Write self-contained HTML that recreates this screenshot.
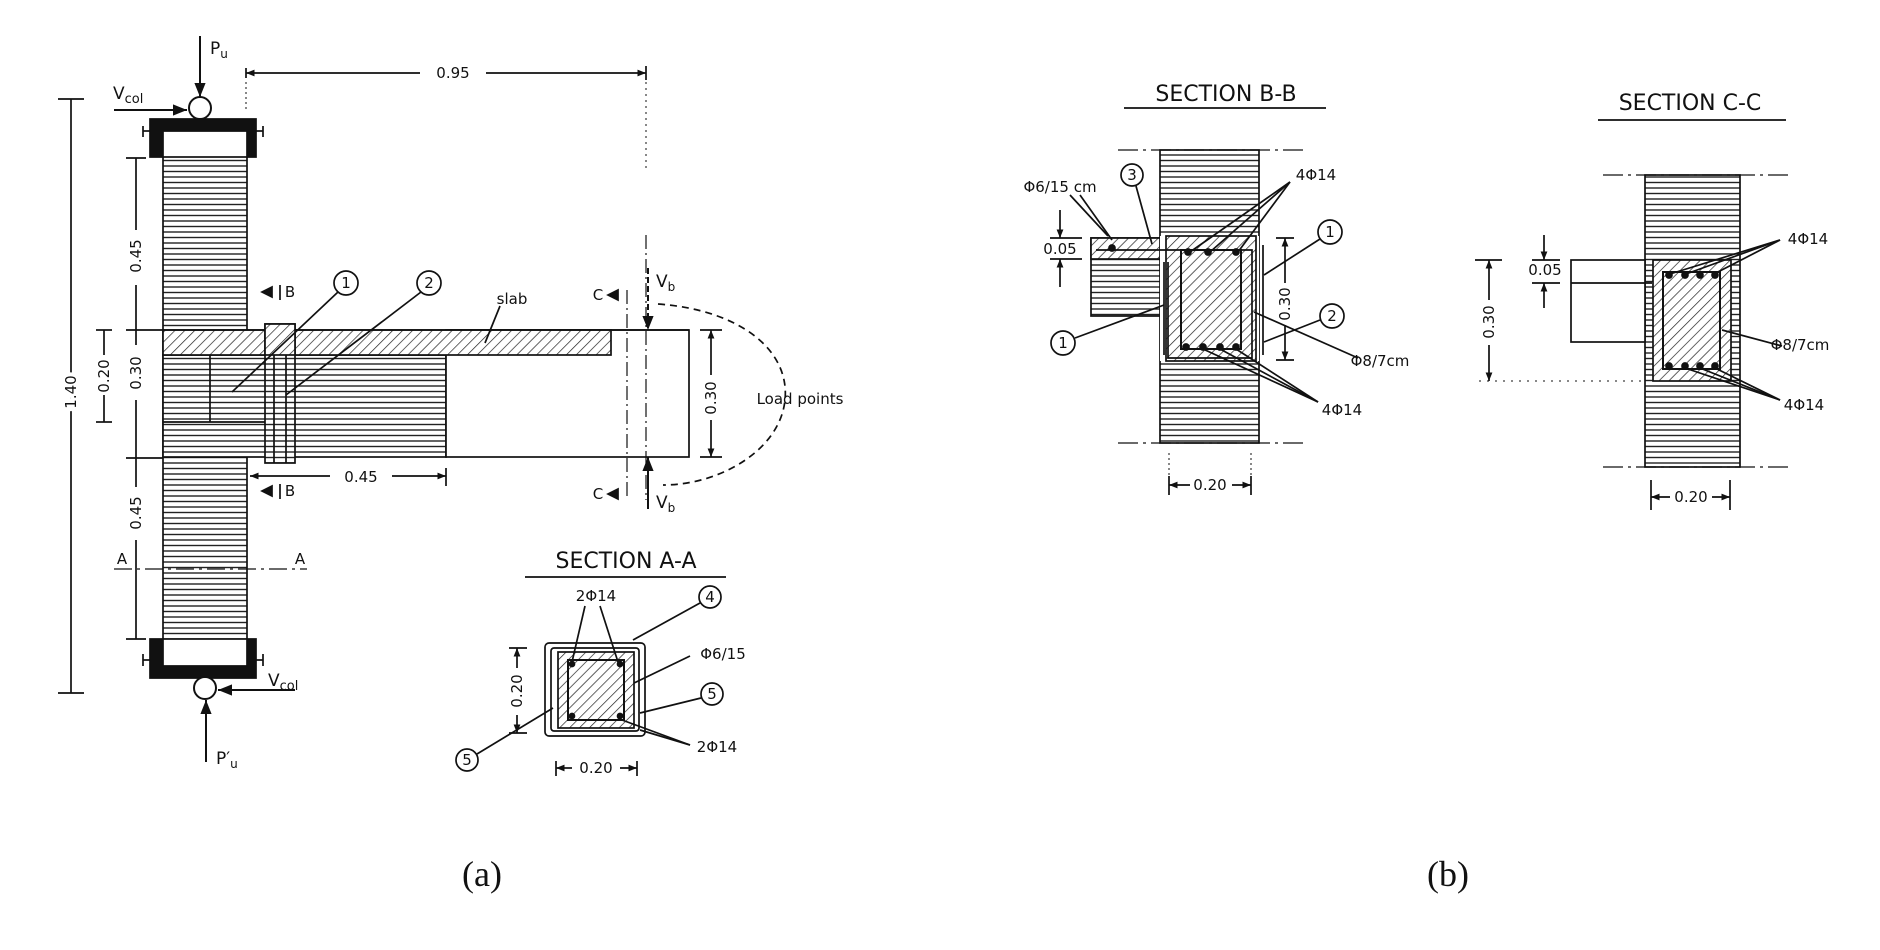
<!DOCTYPE html>
<html><head><meta charset="utf-8"><style>
html,body{margin:0;padding:0;background:#fff;}
svg{display:block;}
text{font-family:"DejaVu Sans","Liberation Sans",sans-serif;fill:#111;}
text.cap{font-family:"Liberation Serif",serif !important;}
</style></head><body>
<svg width="1880" height="950" viewBox="0 0 1880 950" xmlns="http://www.w3.org/2000/svg">
<defs>
<pattern id="hz" width="10" height="5.5" patternUnits="userSpaceOnUse"><rect width="10" height="5.5" fill="#fff"/><line x1="0" y1="1" x2="10" y2="1" stroke="#222" stroke-width="1.4"/></pattern>
<pattern id="dg" width="7" height="7" patternUnits="userSpaceOnUse" patternTransform="rotate(45)"><rect width="7" height="7" fill="#fff"/><line x1="0" y1="0" x2="0" y2="7" stroke="#222" stroke-width="1.4"/></pattern>
<marker id="ar" viewBox="0 0 10 10" refX="10" refY="5" markerWidth="7" markerHeight="7" orient="auto-start-reverse"><path d="M0,1 L10,5 L0,9 z" fill="#111"/></marker>
<marker id="sa" viewBox="0 0 10 10" refX="10" refY="5" markerWidth="5" markerHeight="5" orient="auto-start-reverse"><path d="M0,1 L10,5 L0,9 z" fill="#111"/></marker>
</defs>
<g stroke="#111" fill="none" stroke-width="1.7">
<!-- ========== (a) ========== -->
<rect x="163" y="157" width="84" height="482" fill="url(#hz)"/>
<path d="M150,119 H256 V157 H247 V131 H163 V157 H150 Z" fill="#111"/>
<path d="M150,678 H256 V639 H247 V666 H163 V639 H150 Z" fill="#111"/>
<line x1="143" y1="131" x2="150" y2="131"/><line x1="143" y1="126" x2="143" y2="137"/>
<line x1="256" y1="131" x2="263" y2="131"/><line x1="263" y1="126" x2="263" y2="137"/>
<line x1="143" y1="660" x2="150" y2="660"/><line x1="143" y1="654" x2="143" y2="666"/>
<line x1="256" y1="660" x2="263" y2="660"/><line x1="263" y1="654" x2="263" y2="666"/>
<circle cx="200" cy="108" r="11" fill="#fff" stroke-width="2"/>
<circle cx="205" cy="688" r="11" fill="#fff" stroke-width="2"/>
<rect x="163" y="355" width="283" height="102" fill="url(#hz)"/>
<rect x="446" y="330" width="243" height="127" fill="#fff"/>
<rect x="163" y="330" width="448" height="25" fill="url(#dg)"/>
<line x1="163" y1="330" x2="689" y2="330"/>
<line x1="210" y1="355" x2="210" y2="422"/>
<line x1="163" y1="422" x2="265" y2="422"/>
<rect x="265" y="324" width="30" height="139" fill="url(#hz)"/>
<rect x="265" y="324" width="30" height="31" fill="url(#dg)"/>
<line x1="274" y1="355" x2="274" y2="463"/><line x1="286" y1="355" x2="286" y2="463"/>
<line x1="200" y1="36" x2="200" y2="97" marker-end="url(#ar)" stroke-width="2"/>
<line x1="114" y1="110" x2="187" y2="110" marker-end="url(#ar)" stroke-width="2"/>
<line x1="295" y1="690" x2="218" y2="690" marker-end="url(#ar)" stroke-width="2"/>
<line x1="206" y1="762" x2="206" y2="700" marker-end="url(#ar)" stroke-width="2"/>
<line x1="648" y1="268" x2="648" y2="330" marker-end="url(#ar)" stroke-width="2" stroke-dasharray="6 3"/>
<line x1="648" y1="509" x2="648" y2="457" marker-end="url(#ar)" stroke-width="2"/>
<line x1="246" y1="73" x2="420" y2="73" marker-start="url(#sa)"/>
<line x1="486" y1="73" x2="646" y2="73" marker-end="url(#sa)"/>
<line x1="246" y1="68" x2="246" y2="78"/><line x1="646" y1="66" x2="646" y2="80"/>
<line x1="246" y1="82" x2="246" y2="112" stroke-dasharray="2 3" stroke-width="1"/>
<line x1="646" y1="82" x2="646" y2="170" stroke-dasharray="2 4" stroke-width="1"/>
<line x1="646" y1="235" x2="646" y2="500" stroke-dasharray="14 4 2 4" stroke-width="1.2"/>
<line x1="627" y1="290" x2="627" y2="500" stroke-dasharray="14 4 2 4" stroke-width="1.2"/>
<line x1="71" y1="99" x2="71" y2="693"/><line x1="58" y1="99" x2="84" y2="99"/><line x1="58" y1="693" x2="84" y2="693"/>
<line x1="136" y1="158" x2="136" y2="230"/><line x1="136" y1="285" x2="136" y2="345"/><line x1="136" y1="400" x2="136" y2="487"/><line x1="136" y1="540" x2="136" y2="639"/>
<line x1="126" y1="158" x2="146" y2="158"/><line x1="126" y1="330" x2="163" y2="330"/><line x1="126" y1="458" x2="163" y2="458"/><line x1="126" y1="639" x2="146" y2="639"/>
<line x1="104" y1="330" x2="104" y2="355"/><line x1="104" y1="395" x2="104" y2="422"/><line x1="96" y1="330" x2="112" y2="330"/><line x1="96" y1="422" x2="112" y2="422"/>
<line x1="711" y1="330" x2="711" y2="375" marker-start="url(#sa)"/><line x1="711" y1="420" x2="711" y2="457" marker-end="url(#sa)"/>
<line x1="700" y1="330" x2="722" y2="330"/><line x1="700" y1="457" x2="722" y2="457"/>
<path d="M658,304 C740,310 790,350 785,400 C780,450 720,485 663,485" stroke-dasharray="7 5"/>
<line x1="250" y1="476" x2="330" y2="476" marker-start="url(#sa)"/><line x1="392" y1="476" x2="446" y2="476" marker-end="url(#sa)"/>
<line x1="446" y1="468" x2="446" y2="486"/>
<line x1="280" y1="285" x2="280" y2="300"/><line x1="280" y1="484" x2="280" y2="499"/>
<path d="M262,292 L272,287 L272,297 Z" fill="#111"/><path d="M262,491 L272,486 L272,496 Z" fill="#111"/>
<path d="M608,295 L618,290 L618,300 Z" fill="#111"/><path d="M608,494 L618,489 L618,499 Z" fill="#111"/>
<line x1="114" y1="569" x2="307" y2="569" stroke-dasharray="18 5 3 5" stroke-width="1.2"/>
<circle cx="346" cy="283" r="12"/><circle cx="429" cy="283" r="12"/>
<line x1="338" y1="292" x2="232" y2="392"/><line x1="421" y1="292" x2="286" y2="395"/>
<line x1="500" y1="306" x2="485" y2="343"/>
<line x1="525" y1="577" x2="726" y2="577"/>
<rect x="545" y="643" width="100" height="93" rx="4" fill="#fff"/>
<rect x="551" y="648" width="88" height="83" rx="3"/>
<rect x="558" y="652" width="76" height="76" fill="url(#dg)"/>
<rect x="568" y="660" width="56" height="60" fill="url(#dg)" stroke-width="2"/>
<circle cx="572" cy="664" r="2.5" fill="#111"/><circle cx="620" cy="664" r="2.5" fill="#111"/><circle cx="572" cy="716" r="2.5" fill="#111"/><circle cx="620" cy="716" r="2.5" fill="#111"/>
<line x1="585" y1="606" x2="572" y2="662"/><line x1="600" y1="606" x2="618" y2="662"/>
<circle cx="710" cy="597" r="11"/><line x1="700" y1="603" x2="633" y2="640"/>
<line x1="690" y1="656" x2="634" y2="683"/>
<circle cx="712" cy="694" r="11"/><line x1="701" y1="698" x2="640" y2="713"/>
<line x1="690" y1="745" x2="622" y2="720"/><line x1="690" y1="745" x2="640" y2="730"/>
<circle cx="467" cy="760" r="11"/><line x1="477" y1="754" x2="553" y2="708"/>
<line x1="517" y1="648" x2="517" y2="668" marker-start="url(#sa)"/><line x1="517" y1="715" x2="517" y2="733" marker-end="url(#sa)"/>
<line x1="509" y1="648" x2="527" y2="648"/><line x1="509" y1="733" x2="527" y2="733"/>
<line x1="556" y1="768" x2="572" y2="768" marker-start="url(#sa)"/><line x1="620" y1="768" x2="637" y2="768" marker-end="url(#sa)"/>
<line x1="556" y1="761" x2="556" y2="776"/><line x1="637" y1="761" x2="637" y2="776"/>

<!-- Section B-B -->
<line x1="1124" y1="108" x2="1326" y2="108"/>
<rect x="1160" y="150" width="99" height="293" fill="url(#hz)"/>
<line x1="1118" y1="150" x2="1307" y2="150" stroke-dasharray="20 5 3 5" stroke-width="1.2"/>
<line x1="1118" y1="443" x2="1307" y2="443" stroke-dasharray="20 5 3 5" stroke-width="1.2"/>
<rect x="1091" y="238" width="69" height="78" fill="url(#hz)"/>
<rect x="1091" y="238" width="69" height="21" fill="url(#dg)"/>
<rect x="1160" y="236" width="99" height="125" fill="#fff" stroke="none"/>
<rect x="1166" y="236" width="90" height="125" fill="url(#dg)"/>
<rect x="1181" y="250" width="60" height="99" fill="url(#dg)" stroke-width="2"/>
<path d="M1096,250 H1252 V358 H1168 V262"/>
<line x1="1263" y1="245" x2="1263" y2="355"/>
<line x1="1164" y1="262" x2="1164" y2="355"/>
<circle cx="1112" cy="248" r="3" fill="#111"/>
<circle cx="1188" cy="252" r="3" fill="#111"/><circle cx="1208" cy="252" r="3" fill="#111"/><circle cx="1236" cy="252" r="3" fill="#111"/>
<circle cx="1186" cy="347" r="3" fill="#111"/><circle cx="1203" cy="347" r="3" fill="#111"/><circle cx="1220" cy="347" r="3" fill="#111"/><circle cx="1236" cy="347" r="3" fill="#111"/>
<line x1="1285" y1="238" x2="1285" y2="283" marker-start="url(#sa)"/><line x1="1285" y1="325" x2="1285" y2="360" marker-end="url(#sa)"/>
<line x1="1276" y1="238" x2="1294" y2="238"/><line x1="1276" y1="360" x2="1294" y2="360"/>
<line x1="1060" y1="210" x2="1060" y2="238" marker-end="url(#sa)"/><line x1="1060" y1="287" x2="1060" y2="259" marker-end="url(#sa)"/>
<line x1="1050" y1="238" x2="1082" y2="238"/><line x1="1050" y1="259" x2="1082" y2="259"/>
<circle cx="1132" cy="175" r="11"/><line x1="1136" y1="186" x2="1152" y2="244"/>
<line x1="1080" y1="195" x2="1112" y2="240"/><line x1="1070" y1="195" x2="1108" y2="236"/>
<line x1="1290" y1="182" x2="1190" y2="252"/><line x1="1290" y1="182" x2="1210" y2="252"/><line x1="1290" y1="182" x2="1238" y2="252"/>
<circle cx="1330" cy="232" r="12"/><line x1="1320" y1="239" x2="1264" y2="275"/>
<circle cx="1332" cy="316" r="12"/><line x1="1320" y1="320" x2="1264" y2="342"/>
<line x1="1358" y1="358" x2="1254" y2="312"/>
<line x1="1318" y1="402" x2="1236" y2="349"/><line x1="1318" y1="402" x2="1220" y2="349"/><line x1="1318" y1="402" x2="1203" y2="349"/>
<circle cx="1063" cy="343" r="12"/><line x1="1075" y1="338" x2="1164" y2="305"/>
<line x1="1169" y1="453" x2="1169" y2="478" stroke-dasharray="2 3" stroke-width="1"/><line x1="1251" y1="453" x2="1251" y2="478" stroke-dasharray="2 3" stroke-width="1"/>
<line x1="1169" y1="485" x2="1190" y2="485" marker-start="url(#sa)"/><line x1="1232" y1="485" x2="1251" y2="485" marker-end="url(#sa)"/>
<line x1="1169" y1="476" x2="1169" y2="495"/><line x1="1251" y1="476" x2="1251" y2="495"/>

<!-- Section C-C -->
<line x1="1598" y1="120" x2="1786" y2="120"/>
<rect x="1645" y="175" width="95" height="292" fill="url(#hz)"/>
<line x1="1603" y1="175" x2="1792" y2="175" stroke-dasharray="20 5 3 5" stroke-width="1.2"/>
<line x1="1603" y1="467" x2="1792" y2="467" stroke-dasharray="20 5 3 5" stroke-width="1.2"/>
<rect x="1571" y="260" width="74" height="82" fill="#fff"/>
<line x1="1571" y1="283" x2="1652" y2="283"/>
<rect x="1653" y="260" width="78" height="121" fill="url(#dg)"/>
<rect x="1663" y="272" width="57" height="97" fill="url(#dg)" stroke-width="2"/>
<circle cx="1669" cy="275" r="3" fill="#111"/><circle cx="1685" cy="275" r="3" fill="#111"/><circle cx="1700" cy="275" r="3" fill="#111"/><circle cx="1715" cy="275" r="3" fill="#111"/>
<circle cx="1669" cy="366" r="3" fill="#111"/><circle cx="1685" cy="366" r="3" fill="#111"/><circle cx="1700" cy="366" r="3" fill="#111"/><circle cx="1715" cy="366" r="3" fill="#111"/>
<line x1="1489" y1="260" x2="1489" y2="300" marker-start="url(#sa)"/><line x1="1489" y1="345" x2="1489" y2="381" marker-end="url(#sa)"/>
<line x1="1475" y1="260" x2="1502" y2="260"/>
<line x1="1479" y1="381" x2="1645" y2="381" stroke-dasharray="2 6" stroke-width="1"/>
<line x1="1544" y1="235" x2="1544" y2="260" marker-end="url(#sa)"/><line x1="1544" y1="308" x2="1544" y2="283" marker-end="url(#sa)"/>
<line x1="1532" y1="260" x2="1560" y2="260"/><line x1="1532" y1="283" x2="1560" y2="283"/>
<line x1="1780" y1="240" x2="1670" y2="274"/><line x1="1780" y1="240" x2="1686" y2="274"/><line x1="1780" y1="240" x2="1714" y2="274"/>
<line x1="1782" y1="346" x2="1722" y2="330"/>
<line x1="1780" y1="400" x2="1715" y2="368"/><line x1="1780" y1="400" x2="1700" y2="368"/><line x1="1780" y1="400" x2="1685" y2="368"/>
<line x1="1651" y1="480" x2="1651" y2="510"/><line x1="1730" y1="480" x2="1730" y2="510"/>
<line x1="1651" y1="497" x2="1670" y2="497" marker-start="url(#sa)"/><line x1="1712" y1="497" x2="1730" y2="497" marker-end="url(#sa)"/>
</g>

<g font-size="17">
<text x="210" y="54">P<tspan font-size="12" dy="4">u</tspan></text>
<text x="113" y="99">V<tspan font-size="13" dy="4">col</tspan></text>
<text x="268" y="686">V<tspan font-size="13" dy="4">col</tspan></text>
<text x="216" y="764">P′<tspan font-size="12" dy="4">u</tspan></text>
<text x="656" y="287">V<tspan font-size="12" dy="4">b</tspan></text>
<text x="656" y="508">V<tspan font-size="12" dy="4">b</tspan></text>
</g>
<g font-size="15" text-anchor="middle">
<text x="453" y="78">0.95</text>
<text x="361" y="482">0.45</text>
<text x="512" y="304">slab</text>
<text x="800" y="404">Load points</text>
<text x="290" y="297">B</text><text x="290" y="496">B</text>
<text x="598" y="300">C</text><text x="598" y="499">C</text>
<text x="122" y="564">A</text><text x="300" y="564">A</text>
<text x="346" y="288">1</text><text x="429" y="288">2</text>
<text transform="translate(71,392) rotate(-90)" dy="5" style="paint-order:stroke;stroke:#fff;stroke-width:8px">1.40</text>
<text transform="translate(136,256) rotate(-90)" dy="5">0.45</text>
<text transform="translate(136,373) rotate(-90)" dy="5">0.30</text>
<text transform="translate(136,513) rotate(-90)" dy="5">0.45</text>
<text transform="translate(104,376) rotate(-90)" dy="5">0.20</text>
<text transform="translate(711,398) rotate(-90)" dy="5">0.30</text>
<text x="626" y="568" font-size="22">SECTION A-A</text>
<text x="596" y="601">2Φ14</text>
<text x="710" y="602">4</text>
<text x="723" y="659">Φ6/15</text>
<text x="712" y="699">5</text>
<text x="717" y="752">2Φ14</text>
<text x="467" y="765">5</text>
<text transform="translate(517,691) rotate(-90)" dy="5">0.20</text>
<text x="596" y="773">0.20</text>
<text x="1226" y="101" font-size="22">SECTION B-B</text>
<text x="1060" y="192">Φ6/15 cm</text>
<text x="1132" y="180">3</text>
<text x="1316" y="180">4Φ14</text>
<text x="1330" y="237">1</text>
<text x="1332" y="321">2</text>
<text x="1063" y="348">1</text>
<text x="1380" y="366">Φ8/7cm</text>
<text x="1342" y="415">4Φ14</text>
<text x="1060" y="254">0.05</text>
<text transform="translate(1285,304) rotate(-90)" dy="5">0.30</text>
<text x="1210" y="490">0.20</text>
<text x="1690" y="110" font-size="22">SECTION C-C</text>
<text x="1808" y="244">4Φ14</text>
<text x="1800" y="350">Φ8/7cm</text>
<text x="1804" y="410">4Φ14</text>
<text x="1545" y="275">0.05</text>
<text transform="translate(1489,322) rotate(-90)" dy="5">0.30</text>
<text x="1691" y="502">0.20</text>
</g>
<text class="cap" x="482" y="886" font-size="36" text-anchor="middle">(a)</text>
<text class="cap" x="1448" y="886" font-size="36" text-anchor="middle">(b)</text>
</svg>
</body></html>
